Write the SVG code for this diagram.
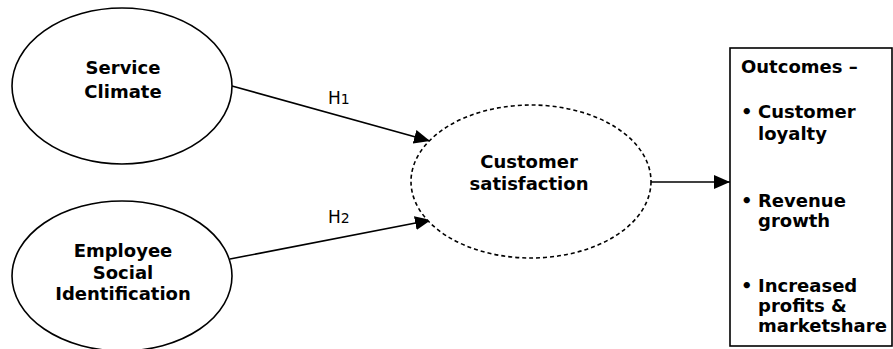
<svg xmlns="http://www.w3.org/2000/svg" width="893" height="349" viewBox="0 0 893 349">
<style>
.node{fill:#fff;stroke:#000;stroke-width:1.6}
.dash{stroke-dasharray:4 3}
.lbl{font-family:"DejaVu Sans",Verdana,sans-serif;font-weight:bold;font-size:18px;text-anchor:middle;fill:#000}
.box{font-family:"DejaVu Sans",Verdana,sans-serif;font-weight:bold;font-size:18px;fill:#000}
.h{font-family:"DejaVu Sans",Verdana,sans-serif;font-size:17px;fill:#000}
.edge{stroke:#000;stroke-width:1.6;fill:none}
</style>
<defs>
<marker id="arr" markerUnits="userSpaceOnUse" markerWidth="17" markerHeight="15" refX="16" refY="7" orient="auto">
<path d="M0,0 L16,7 L0,14 z" fill="#000"/>
</marker>
</defs>
<rect width="893" height="349" fill="#fff"/>
<g id="edges">
<line class="edge" x1="232" y1="86" x2="430" y2="141" marker-end="url(#arr)"/>
<line class="edge" x1="230" y1="259" x2="431" y2="220" marker-end="url(#arr)"/>
<line class="edge" x1="651" y1="182" x2="730" y2="182" marker-end="url(#arr)"/>
<text class="h" x="328" y="104">H<tspan font-size="14px">1</tspan></text>
<text class="h" x="328" y="223">H<tspan font-size="14px">2</tspan></text>
</g>
<g id="service-climate">
<ellipse class="node" cx="122" cy="86" rx="110" ry="78"/>
<text class="lbl" x="123" y="74">Service</text>
<text class="lbl" x="123" y="98">Climate</text>
</g>
<g id="employee-social-identification">
<ellipse class="node" cx="122" cy="276" rx="110" ry="75"/>
<text class="lbl" x="123" y="257">Employee</text>
<text class="lbl" x="123" y="279">Social</text>
<text class="lbl" x="123" y="300">Identification</text>
</g>
<g id="customer-satisfaction">
<ellipse class="node dash" cx="531" cy="181.5" rx="120" ry="76.5"/>
<text class="lbl" x="529" y="168">Customer</text>
<text class="lbl" x="529" y="190">satisfaction</text>
</g>
<g id="outcomes">
<rect class="node" x="730" y="48" width="162" height="298"/>
<text class="box" x="741" y="73">Outcomes –</text>
<text class="box" x="741" y="118">•</text>
<text class="box" x="758" y="118">Customer</text>
<text class="box" x="758" y="140">loyalty</text>
<text class="box" x="741" y="207">•</text>
<text class="box" x="758" y="207">Revenue</text>
<text class="box" x="758" y="227">growth</text>
<text class="box" x="741" y="292">•</text>
<text class="box" x="758" y="292">Increased</text>
<text class="box" x="758" y="312">profits &amp;</text>
<text class="box" x="758" y="332">marketshare</text>
</g>
</svg>
